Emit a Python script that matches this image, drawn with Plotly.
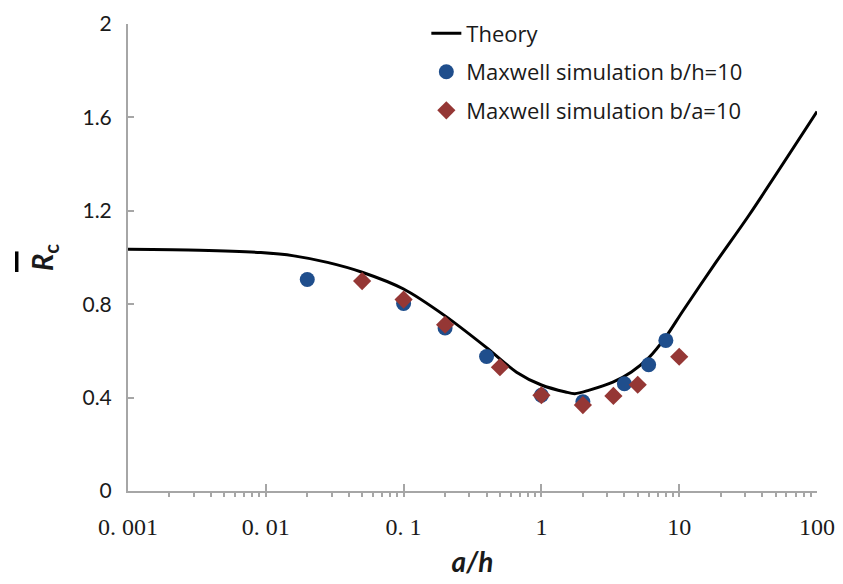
import plotly.graph_objects as go

# Theory curve
theory_x = [0.001, 0.0033, 0.0092, 0.016, 0.028, 0.05, 0.1, 0.2, 0.4, 0.66, 1.0,
            1.5, 1.75, 2.2, 3.3, 4.5, 6, 8, 10.6, 18.5, 32, 100]
theory_y = [1.035, 1.031, 1.021, 1.007, 0.979, 0.937, 0.865, 0.750, 0.614, 0.509, 0.454,
            0.424, 0.417, 0.431, 0.466, 0.510, 0.570, 0.660, 0.770, 0.980, 1.180, 1.625]

# Maxwell simulation b/h=10
bh_x = [0.02, 0.1, 0.2, 0.4, 1, 2, 4, 6, 8]
bh_y = [0.906, 0.803, 0.698, 0.576, 0.41, 0.382, 0.459, 0.541, 0.645]

# Maxwell simulation b/a=10
ba_x = [0.05, 0.1, 0.2, 0.5, 1, 2, 3.33, 5, 10]
ba_y = [0.899, 0.820, 0.712, 0.530, 0.41, 0.368, 0.407, 0.455, 0.575]

x_tickvals = [0.001, 0.01, 0.1, 1, 10, 100]
x_ticktext = ["0. 001", "0. 01", "0. 1", "1", "10", "100"]
y_tickvals = [0, 0.4, 0.8, 1.2, 1.6, 2]
y_ticktext = ["0", "0.4", "0.8", "1.2", "1.6", "2"]

axis_gray = "#a6a6a6"
text_col = "#1a1a1a"

fig = go.Figure()
fig.add_trace(go.Scatter(x=theory_x, y=theory_y, mode="lines", name="Theory",
                         line=dict(color="black", width=3, shape="spline", smoothing=0.8),
                         legendgroup="a"))
fig.add_trace(go.Scatter(x=bh_x, y=bh_y, mode="markers", name="Maxwell simulation b/h=10",
                         marker=dict(symbol="circle", size=15, color="#1f4e8c"), legendgroup="b"))
fig.add_trace(go.Scatter(x=ba_x, y=ba_y, mode="markers", name="Maxwell simulation b/a=10",
                         marker=dict(symbol="diamond", size=14, color="#953735"), legendgroup="c"))

fig.update_layout(
    width=843, height=584,
    margin=dict(l=128, r=26, t=16, b=93, pad=0),
    paper_bgcolor="white", plot_bgcolor="white",
    font=dict(family="Lato, Open Sans, sans-serif", color=text_col),
    legend=dict(x=0.433, y=1.025, xanchor="left", yanchor="top",
                font=dict(size=22, color=text_col, family="Open Sans, sans-serif"),
                bgcolor="rgba(0,0,0,0)", tracegroupgap=7),
    xaxis=dict(type="log", range=[-3, 2], showgrid=False, zeroline=False, automargin=False,
               showline=True, linecolor=axis_gray, linewidth=2,
               tickmode="array", tickvals=x_tickvals, ticktext=x_ticktext,
               ticks="inside", ticklen=7, tickwidth=1.5, tickcolor=axis_gray,
               ticklabelstandoff=13,
               tickfont=dict(family="Liberation Serif, serif", size=24, color=text_col),
               minor=dict(ticks="outside", ticklen=4, tickwidth=1.5, tickcolor=axis_gray,
                          dtick="D1", showgrid=False),
               title=dict(text="<b><i>a/h</i></b>", font=dict(size=28, color=text_col,
                          family="Lato, Open Sans, sans-serif"), standoff=14)),
    yaxis=dict(range=[0, 2], showgrid=False, zeroline=False, automargin=False,
               showline=True, linecolor=axis_gray, linewidth=2,
               tickmode="array", tickvals=y_tickvals, ticktext=y_ticktext,
               ticks="inside", ticklen=6, tickwidth=1.5, tickcolor=axis_gray,
               ticklabelstandoff=10,
               tickfont=dict(size=21, color=text_col, family="Lato, Open Sans, sans-serif"),
               title=dict(text="<b><i>R</i><sub>c</sub></b>",
                          font=dict(size=29, color=text_col, family="Lato, Open Sans, sans-serif"),
                          standoff=20)),
    shapes=[dict(type="line", xref="paper", yref="paper",
                 x0=-0.1615, x1=-0.1615, y0=0.469, y1=0.513,
                 line=dict(color="black", width=3.5))],
)

fig.write_html("out.html")
